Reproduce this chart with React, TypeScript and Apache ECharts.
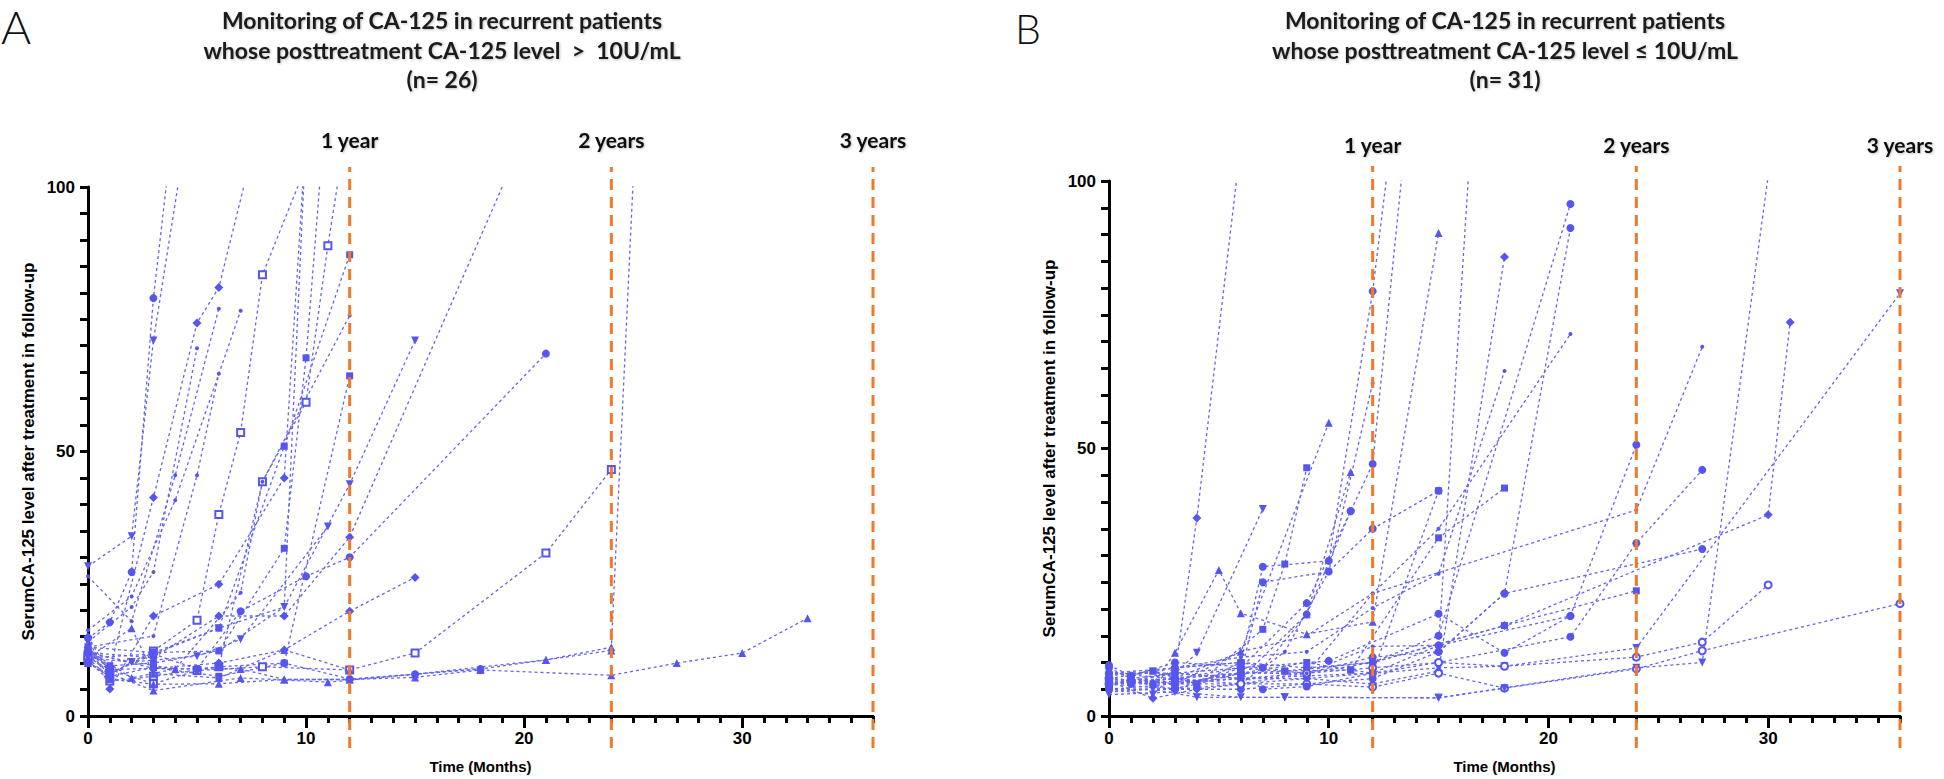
import React, { useEffect, useRef } from 'react';
import * as echarts from 'echarts';

// ---------- data ----------
const xTickMonths = [0, 10, 20, 30];
const yTickValues = [0, 50, 100];
const yearMonths = [12, 24, 36];
const yearLabels = ['1 year', '2 years', '3 years'];

const titleA = ['Monitoring of CA-125 in recurrent patients', 'whose posttreatment CA-125 level  >  10U/mL', '(n= 26)'];
const titleB = ['Monitoring of CA-125 in recurrent patients', 'whose posttreatment CA-125 level \u2264 10U/mL', '(n= 31)'];
const yAxisTitle = 'SerumCA-125 level after treatment in follow-up';
const xAxisTitle = 'Time (Months)';

// [month, CA-125] per patient, panel A (n = 26)
const patientsA: number[][][] = [
  [[0, 14.7], [1, 17.7], [2, 27.2], [3, 79], [4, 115]],
  [[0, 28.3], [2, 34], [3, 71], [4.5, 110]],
  [[0, 12.5], [1, 8.8], [3, 41.3], [5, 74.3], [6, 81], [7.5, 106]],
  [[0, 11.5], [1, 8], [3, 12.3], [5, 18.1], [6, 38.1], [7, 53.6], [8, 83.4], [10, 104]],
  [[0, 12], [1, 9.5], [3, 10], [6, 12.3], [9, 31.7], [10, 67.7], [11, 120]],
  [[0, 10.5], [1, 6.6], [3, 7.5], [6, 9.3], [8, 44.3], [10, 59.3], [11, 88.9], [12, 115]],
  [[0, 11], [3, 11.7], [6, 16.6], [9, 51], [12, 87.2]],
  [[0, 16.2], [2, 22.6], [4, 40.8], [7, 76.6]],
  [[0, 26.4], [2, 17.9], [4, 45.5], [6, 77]],
  [[0, 13], [3, 15.1], [5, 45.5], [6, 64.7]],
  [[0, 14], [2, 20.6], [3, 27.2], [5, 69.5]],
  [[0, 10], [1, 7.5], [3, 9.2], [6, 7.5], [9, 10], [12, 64.3]],
  [[0, 11], [1, 8.8], [3, 6.1], [5, 8.6], [8, 9.3], [12, 8.7], [15, 11.9], [21, 30.8], [24, 46.6]],
  [[0, 11], [1, 7], [3, 6], [6, 6.1], [9, 6.9], [12, 6.9], [15, 7.3], [18, 8.7], [24, 7.7], [27, 10], [30, 11.9], [33, 18.5]],
  [[0, 10], [1, 8], [3, 4.8], [7, 7.2], [11, 6.4], [15, 7.9], [21, 10.6], [24, 12.4]],
  [[0, 12.5], [2, 7.2], [4, 8.9], [7, 8.9], [9, 6.9], [12, 6.9], [18, 8.9], [21, 10.6], [24, 13], [25.1, 110]],
  [[0, 13], [3, 12], [6, 16.6], [9, 20.6], [12, 43.8], [15, 71]],
  [[0, 11], [2, 10.2], [5, 11.3], [7, 14.5], [11, 35.8]],
  [[0, 13], [1, 8.8], [3, 9], [5, 8.9], [7, 19.8], [10, 26.4], [12, 30], [21, 68.5]],
  [[0, 12], [3, 11], [6, 18.9], [9, 18.9], [12, 33.8], [20, 109.5]],
  [[0, 12], [3, 9], [6, 10], [9, 12.5], [12, 19.8], [15, 26.2]],
  [[0, 15], [1, 5.1], [3, 18.9], [6, 24.9], [9, 45], [10, 110]],
  [[0, 12], [2, 10.2], [4, 8.9], [7, 23.3], [8, 44.3], [12, 75.7]],
  [[0, 12], [1, 8], [3, 11.7], [5, 8.9], [6, 9.3], [9, 10], [12, 7], [15, 7.9], [18, 8.9]],
  [[0, 11], [2, 16.6], [3, 8], [6, 7.2], [9, 12.5], [12, 8.7]],
  [[0, 15], [1, 8], [3, 12], [6, 12.3], [9, 20.6], [10, 110]],
];
const markersA = ['c', 'v', 'd', 'er', 'r', 'er', 'r', '.', '.', '.', '.', 'r', 'er', 't', 't', 't', 'v', 'v', 'c', 'd', 'd', 'd', '.', 'c', 't', '.'];

// [month, CA-125] per patient, panel B (n = 31)
const patientsB: number[][][] = [
  [[0, 6], [1, 6.5], [3, 8], [4, 37], [6, 107]],
  [[0, 7], [2, 6], [3, 11.8], [5, 27.3], [6, 19.2], [9, 15.3], [12, 17.6], [15, 90.3]],
  [[0, 5], [2, 4], [4, 11.8], [7, 38.7]],
  [[0, 8], [1, 7.5], [3, 9], [6, 10], [7, 27.9], [10, 29], [12, 79.4], [13, 113]],
  [[0, 6.5], [1, 6], [3, 7], [6, 8], [7, 25], [10, 27], [12, 35], [15, 42.1]],
  [[0, 7.5], [2, 8.4], [4, 6], [7, 16.2], [8, 28.4], [9, 46.4]],
  [[0, 5.5], [1, 7], [3, 6], [6, 12], [10, 54.8]],
  [[0, 9], [1, 7], [3, 8], [6, 9], [9, 21.1], [11, 38.3], [12, 47.1], [13.5, 108]],
  [[0, 6], [3, 6.5], [6, 7], [9, 19], [11, 45.6]],
  [[0, 5], [3, 5], [6, 6], [8, 12], [10, 27], [12, 62.2]],
  [[0, 7], [3, 6], [6, 8], [9, 8], [12, 13], [15, 13.2], [16.5, 110]],
  [[0, 6.5], [2, 3.3], [4, 5], [6, 6], [9, 7], [12, 6], [15, 8.4], [18, 85.8]],
  [[0, 8], [3, 9], [6, 11], [9, 12], [12, 20.2], [15, 26.6], [18, 64.5]],
  [[0, 6], [3, 7], [6, 12], [9, 15], [12, 22.9], [15, 35], [21, 71.4]],
  [[0, 5], [3, 5], [6, 5], [9, 6], [12, 7], [15, 12], [18, 22.9], [21, 91.2]],
  [[0, 7], [2, 6], [3, 9], [6, 10], [9, 9], [12, 10], [15, 15], [21, 95.7]],
  [[0, 6], [3, 6], [6, 8], [9, 10], [11, 8.6], [15, 33.3], [18, 42.6]],
  [[0, 8], [3, 7], [6, 9], [10, 10.3], [15, 19.1], [18, 11.8], [21, 18.7], [24, 50.7]],
  [[0, 6], [3, 8], [6, 7], [9, 7.5], [12, 8], [15, 10], [21, 14.8], [24, 32.3], [27, 46]],
  [[0, 7], [3, 6], [6, 6], [9, 6], [12, 5.4], [15, 8], [18, 5.2], [24, 8.8], [27, 12.2], [36, 21]],
  [[0, 5], [3, 6], [6, 7], [9, 7], [12, 8], [15, 9], [18, 9.3], [24, 12.7], [36, 79]],
  [[0, 6], [3, 5], [6, 9], [9, 8], [12, 11], [15, 12], [18, 22.9], [27, 31.2]],
  [[0, 7], [3, 6], [6, 8], [9, 8], [12, 10], [18, 16.9], [30, 37.6], [31, 73.6]],
  [[0, 6], [3, 7], [6, 6], [9, 8], [12, 9], [15, 10], [18, 9.3], [24, 11], [27, 13.8], [30, 24.5]],
  [[0, 8], [3, 8], [6, 7], [9, 8], [12, 22.9], [24, 38.5], [27, 69]],
  [[0, 4], [3, 4.5], [6, 3.5], [8, 3.5], [15, 3.4], [24, 9], [27, 10], [30.3, 110]],
  [[0, 9.5], [1, 7.5], [3, 10], [7, 9], [9, 19], [11, 38.3]],
  [[0, 7], [2, 8.4], [4, 6], [6, 10], [8, 8.4], [12, 10], [18, 16.9], [24, 23.4]],
  [[0, 5.5], [1, 6.5], [3, 5], [6, 8], [7, 5], [9, 5.5], [12, 8], [15, 13.2], [21, 18.7]],
  [[0, 6.5], [3, 7], [6, 8], [8, 8.4], [11, 8.6], [12, 8], [15, 42.1]],
  [[0, 4.5], [2, 5], [4, 3.5], [8, 3.5], [15, 3.4], [18, 5.2]],
];
const markersB = ['d', 't', 'v', 'c', 'c', 'r', 't', 'c', 't', '.', '.', 'd', '.', '.', 'c', 'c', 'r', 'c', 'c', 'ec', 'v', 'c', 'd', 'ec', '.', 'v', 'c', 'r', 'c', 'r', 'v'];

// ---------- styling ----------
const MARK = '#5656ef';
const LINE = '#6464f0';
const ORANGE = '#f07a2a';
const SYMBOLS: Record<string, [string, number, number]> = {
  c: ['circle', 8, 0],
  ec: ['emptyCircle', 7, 0],
  r: ['rect', 7, 0],
  er: ['emptyRect', 7, 0],
  d: ['diamond', 9, 0],
  t: ['triangle', 8, 0],
  v: ['triangle', 8, 180],
  '.': ['circle', 4, 0],
};
const ARIAL = '"Liberation Sans", Arial, sans-serif';
const HEAD = 'Lato, "Noto Sans", sans-serif';
const SHADOW = {
  textShadowColor: 'rgba(0,0,0,0.25)',
  textShadowBlur: 2,
  textShadowOffsetX: 1,
  textShadowOffsetY: 1,
};

function patientSeries(pts: number[][], key: string, xi: number, yi: number) {
  const [shape, size, rot] = SYMBOLS[key];
  return {
    type: 'line',
    xAxisIndex: xi,
    yAxisIndex: yi,
    data: pts,
    symbol: shape,
    symbolSize: size,
    symbolRotate: rot,
    lineStyle: { color: LINE, width: 1.3, type: [3, 3] },
    itemStyle: { color: MARK, borderColor: MARK, borderWidth: shape.startsWith('empty') ? 1.8 : 0 },
    emphasis: { disabled: true },
    silent: true,
    clip: true,
    z: 3,
  };
}

function yearSeries(xi: number, yi: number, dist: number) {
  return yearMonths.map((m, i) => ({
    type: 'line',
    xAxisIndex: xi,
    yAxisIndex: yi,
    data: [
      [m, 0],
      {
        value: [m, 1],
        label: {
          show: true,
          formatter: yearLabels[i],
          position: 'top',
          distance: dist,
          fontSize: 21,
          fontWeight: 'bold',
          color: '#111',
          fontFamily: HEAD,
          ...SHADOW,
        },
      },
    ],
    symbol: 'circle',
    symbolSize: 0,
    lineStyle: { color: ORANGE, width: 3, type: [11, 7] },
    silent: true,
    clip: false,
    z: 6,
  }));
}

function mainX(grid: number) {
  return {
    type: 'value',
    gridIndex: grid,
    position: 'bottom',
    min: 0,
    max: 36,
    interval: 1,
    axisLine: { show: true, onZero: false, lineStyle: { color: '#000', width: 3 } },
    axisTick: { show: true, length: 7, lineStyle: { color: '#000', width: 3 } },
    axisLabel: {
      formatter: (v: number) => (xTickMonths.includes(v) ? String(v) : ''),
      fontSize: 17,
      fontWeight: 'bold',
      color: '#000',
      margin: 14,
      fontFamily: ARIAL,
    },
    splitLine: { show: false },
    name: xAxisTitle,
    nameLocation: 'middle',
    nameGap: 43,
    nameTextStyle: { fontSize: 15, fontWeight: 'bold', color: '#000', fontFamily: ARIAL },
  };
}
function majorX(grid: number) {
  return {
    type: 'value',
    gridIndex: grid,
    position: 'bottom',
    offset: 0,
    min: 0,
    max: 36,
    interval: 10,
    axisLine: { show: true, onZero: false, lineStyle: { color: '#000', width: 3 } },
    axisTick: { show: true, length: 12, lineStyle: { color: '#000', width: 3 }, customValues: xTickMonths },
    axisLabel: { show: false },
    splitLine: { show: false },
  };
}
function mainY(grid: number) {
  return {
    type: 'value',
    gridIndex: grid,
    min: 0,
    max: 100,
    interval: 5,
    axisLine: { show: true, lineStyle: { color: '#000', width: 3 } },
    axisTick: { show: true, length: 8, lineStyle: { color: '#000', width: 3 } },
    axisLabel: {
      formatter: (v: number) => (yTickValues.includes(v) ? String(v) : ''),
      fontSize: 17,
      fontWeight: 'bold',
      color: '#000',
      margin: 13,
      fontFamily: ARIAL,
    },
    splitLine: { show: false },
    name: yAxisTitle,
    nameLocation: 'middle',
    nameRotate: 90,
    nameGap: 51,
    nameTextStyle: { fontSize: 17, fontWeight: 'bold', color: '#000', fontFamily: ARIAL },
  };
}
function hiddenX(grid: number) {
  return { type: 'value', gridIndex: grid, min: 0, max: 36, show: false };
}
function hiddenY(grid: number) {
  return { type: 'value', gridIndex: grid, min: 0, max: 1, show: false };
}

const TITLE_LINE_Y = [20, 50, 79];
function titleTexts(lines: string[], cx: number) {
  return lines.map((line, i) => ({
    type: 'text',
    x: cx,
    y: TITLE_LINE_Y[i],
    style: {
      text: line,
      fontSize: 23,
      lineHeight: 25,
      fontFamily: HEAD,
      fontWeight: 'bold',
      fill: '#1a1a1a',
      align: 'center',
      textAlign: 'center',
      verticalAlign: 'middle',
      textVerticalAlign: 'middle',
      ...SHADOW,
    },
  }));
}
function panelLetter(letter: string, x: number, y: number, size: number) {
  return {
    type: 'text',
    x,
    y,
    style: {
      text: letter,
      fontSize: size,
      lineHeight: size,
      fontFamily: HEAD,
      fontWeight: 300,
      fill: '#111',
      verticalAlign: 'top',
      textVerticalAlign: 'top',
    },
  };
}

export default function App() {
  const ref = useRef<HTMLDivElement>(null);
  useEffect(() => {
    if (!ref.current) return;
    const chart = echarts.init(ref.current, null, { renderer: 'svg' });
    const series: any[] = [
      ...patientsA.map((p, i) => patientSeries(p, markersA[i], 0, 0)),
      ...patientsB.map((p, i) => patientSeries(p, markersB[i], 2, 1)),
      ...yearSeries(4, 2, 17),
      ...yearSeries(5, 3, 11),
    ];
    chart.setOption({
      animation: false,
      backgroundColor: '#ffffff',
      grid: [
        { left: 88, top: 187, width: 785, height: 530 },
        { left: 1109, top: 181, width: 791, height: 535 },
        { left: 88, top: 167, width: 785, height: 581 },
        { left: 1109, top: 166, width: 791, height: 582 },
      ],
      xAxis: [mainX(0), majorX(0), mainX(1), majorX(1), hiddenX(2), hiddenX(3)],
      yAxis: [mainY(0), mainY(1), hiddenY(2), hiddenY(3)],
      series,
      graphic: [
        ...titleTexts(titleA, 442),
        ...titleTexts(titleB, 1505),
        panelLetter('A', 1, 3, 46),
        panelLetter('B', 1015, 8, 41),
      ],
    });
    return () => chart.dispose();
  }, []);
  return (
    <div
      ref={ref}
      style={{ position: 'fixed', left: 0, top: 0, width: 1944, height: 779, background: '#fff' }}
    />
  );
}
